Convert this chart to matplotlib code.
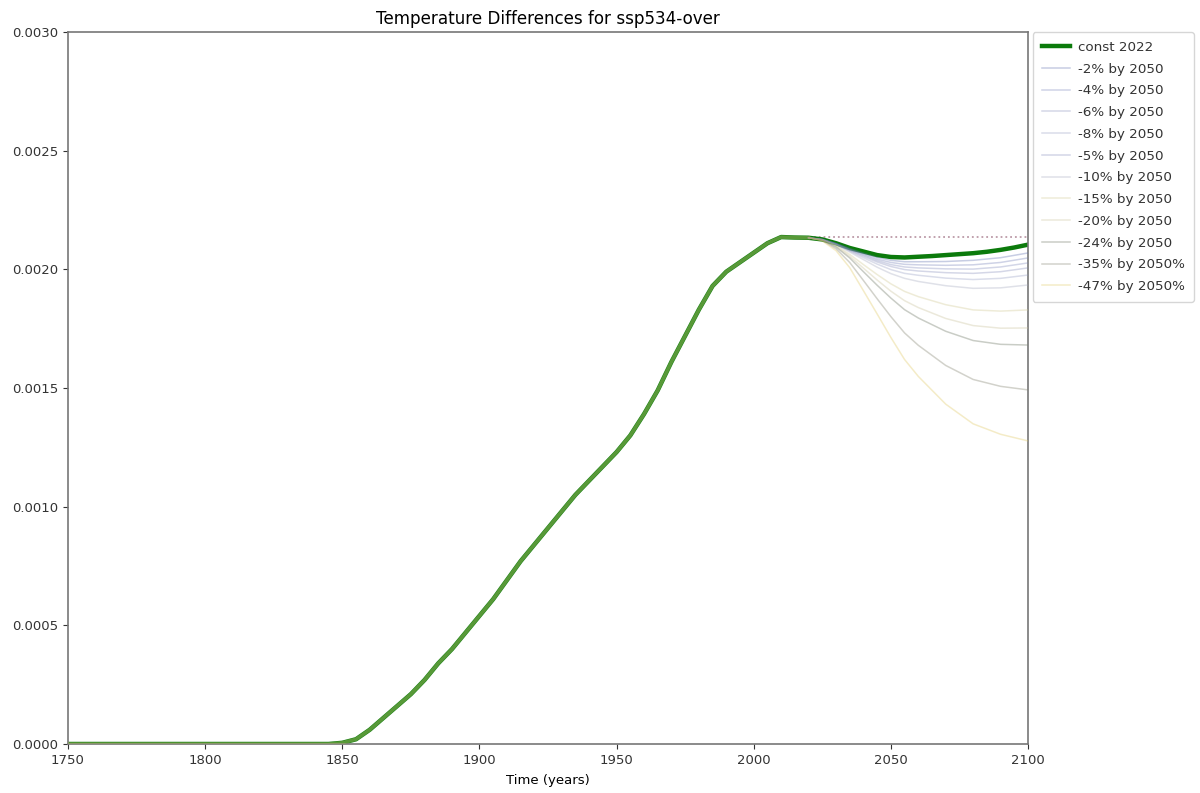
import numpy as np
import matplotlib
matplotlib.use("Agg")
import matplotlib.pyplot as plt

# ---- data ----
hist_years = [1750, 1800, 1845, 1850, 1855, 1860, 1865, 1870, 1875, 1880, 1885,
              1890, 1895, 1900, 1905, 1910, 1915, 1920, 1925, 1930, 1935, 1940,
              1945, 1950, 1955, 1960, 1965, 1970, 1975, 1980, 1985, 1990, 1995,
              2000, 2005, 2010, 2015, 2020]
hist_vals = [0.0, 0.0, 0.0, 0.000005, 0.00002, 0.00006, 0.00011, 0.00016, 0.00021,
             0.00027, 0.00034, 0.00040, 0.00047, 0.00054, 0.00061, 0.00069, 0.00077,
             0.00084, 0.00091, 0.00098, 0.00105, 0.00111, 0.00117, 0.00123, 0.00130,
             0.00139, 0.00149, 0.00161, 0.00172, 0.00183, 0.00193, 0.00199, 0.00203,
             0.00207, 0.00211, 0.002136, 0.002134, 0.002133]

const_years = [2025, 2030, 2035, 2040, 2045, 2050, 2055, 2060, 2065, 2070, 2075,
               2080, 2085, 2090, 2095, 2100]
const_vals = [0.002126, 0.00211, 0.00209, 0.002075, 0.00206, 0.002052, 0.00205,
              0.002053, 0.002056, 0.00206, 0.002064, 0.002068, 0.002074, 0.002082,
              0.002092, 0.002104]

scen_years = [2020, 2025, 2030, 2035, 2040, 2045, 2050, 2055, 2060, 2070, 2080, 2090, 2100]
scen_labels = ["-2% by 2050", "-4% by 2050", "-6% by 2050", "-8% by 2050",
               "-5% by 2050", "-10% by 2050", "-15% by 2050", "-20% by 2050",
               "-24% by 2050", "-35% by 2050%", "-47% by 2050%"]
# values in units of 1e-6
s_m2 = [2133, 2126, 2109, 2087, 2068, 2050, 2038, 2032, 2032, 2033, 2038, 2049, 2069]
s_m4 = [2133, 2126, 2108, 2084, 2064, 2043, 2029, 2021, 2019, 2017, 2019, 2029, 2048]
s_m6 = [2133, 2125, 2106, 2080, 2055, 2031, 2012, 1999, 1993, 1986, 1983, 1990, 2006]
s_m8 = [2133, 2125, 2105, 2077, 2049, 2022, 1999, 1983, 1975, 1963, 1957, 1962, 1976]
s_m5 = [2133, 2126, 2107, 2082, 2060, 2037, 2020, 2010, 2006, 2002, 2001, 2010, 2027]
s_m10 = [2133, 2125, 2104, 2073, 2041, 2009, 1982, 1962, 1949, 1931, 1920, 1922, 1934]
s_m15 = [2133, 2124, 2100, 2063, 2020, 1978, 1939, 1907, 1885, 1851, 1829, 1824, 1829]
s_m20 = [2133, 2124, 2097, 2055, 2005, 1955, 1908, 1868, 1839, 1793, 1763, 1752, 1753]
s_m24 = [2133, 2123, 2094, 2048, 1990, 1933, 1879, 1830, 1795, 1739, 1700, 1684, 1681]
s_m35 = [2133, 2122, 2087, 2029, 1953, 1876, 1801, 1732, 1680, 1595, 1536, 1507, 1492]
s_m47 = [2133, 2120, 2079, 2007, 1910, 1812, 1713, 1620, 1549, 1432, 1349, 1305, 1277]
scen_tails_micro = [s_m2, s_m4, s_m6, s_m8, s_m5, s_m10, s_m15, s_m20, s_m24, s_m35, s_m47]

ref_years = [2022, 2100]
ref_vals = [0.002135, 0.002135]

x_ticks = [1750, 1800, 1850, 1900, 1950, 2000, 2050, 2100]
y_ticks = [0.0, 0.0005, 0.0010, 0.0015, 0.0020, 0.0025, 0.0030]

# ---- style ----
scen_colors = ["#6070b0", "#7580b8", "#8088b8", "#9098c0", "#7a84b8", "#a0a4bc",
               "#d0c890", "#c8c098", "#808878", "#8a8a78", "#e0c860"]
scen_alpha = [0.35, 0.35, 0.33, 0.33, 0.33, 0.33, 0.35, 0.35, 0.42, 0.38, 0.35]

fig = plt.figure(figsize=(12, 7.93), dpi=100)
ax = fig.add_axes([68 / 1200, 1 - 744 / 793, 960 / 1200, 712 / 793])

fs = 9.5
const_x = hist_years + const_years
const_y = hist_vals + const_vals
ax.plot(const_x, const_y, color="#0b7a0b", lw=3.2, label="const 2022", zorder=2)
# faint overlay of the (identical) scenario histories, tinting the green
ax.plot(hist_years, hist_vals, color="#b8c070", lw=2.6, alpha=0.45, zorder=3)

for i, (lab, tail) in enumerate(zip(scen_labels, scen_tails_micro)):
    ax.plot(scen_years, [v * 1e-6 for v in tail], color=scen_colors[i],
            alpha=scen_alpha[i], lw=1.1, label=lab, zorder=3)

ax.plot(ref_years, ref_vals, color="#b08898", ls=":", lw=1.3, alpha=0.85, zorder=1)

ax.set_xlim(1750, 2100)
ax.set_ylim(0, 0.003)
ax.set_xticks(x_ticks)
ax.set_yticks(y_ticks)
ax.set_yticklabels([f"{v:.4f}" for v in y_ticks])
ax.tick_params(labelsize=fs, colors="#333333")
ax.set_xlabel("Time (years)", fontsize=fs, labelpad=5)
ax.set_title("Temperature Differences for ssp534-over", fontsize=12.1, pad=6)
for s in ax.spines.values():
    s.set_color("#777777")
    s.set_linewidth(1.2)

leg = ax.legend(loc="upper left", bbox_to_anchor=(1.005, 1.0), fontsize=9.7,
                frameon=True, handlelength=2.1, handletextpad=0.6,
                labelspacing=0.65, borderpad=0.65, borderaxespad=0.0)
leg.get_frame().set_edgecolor("#cccccc")
for t in leg.get_texts():
    t.set_color("#333333")

fig.savefig("out.png", dpi=100)
